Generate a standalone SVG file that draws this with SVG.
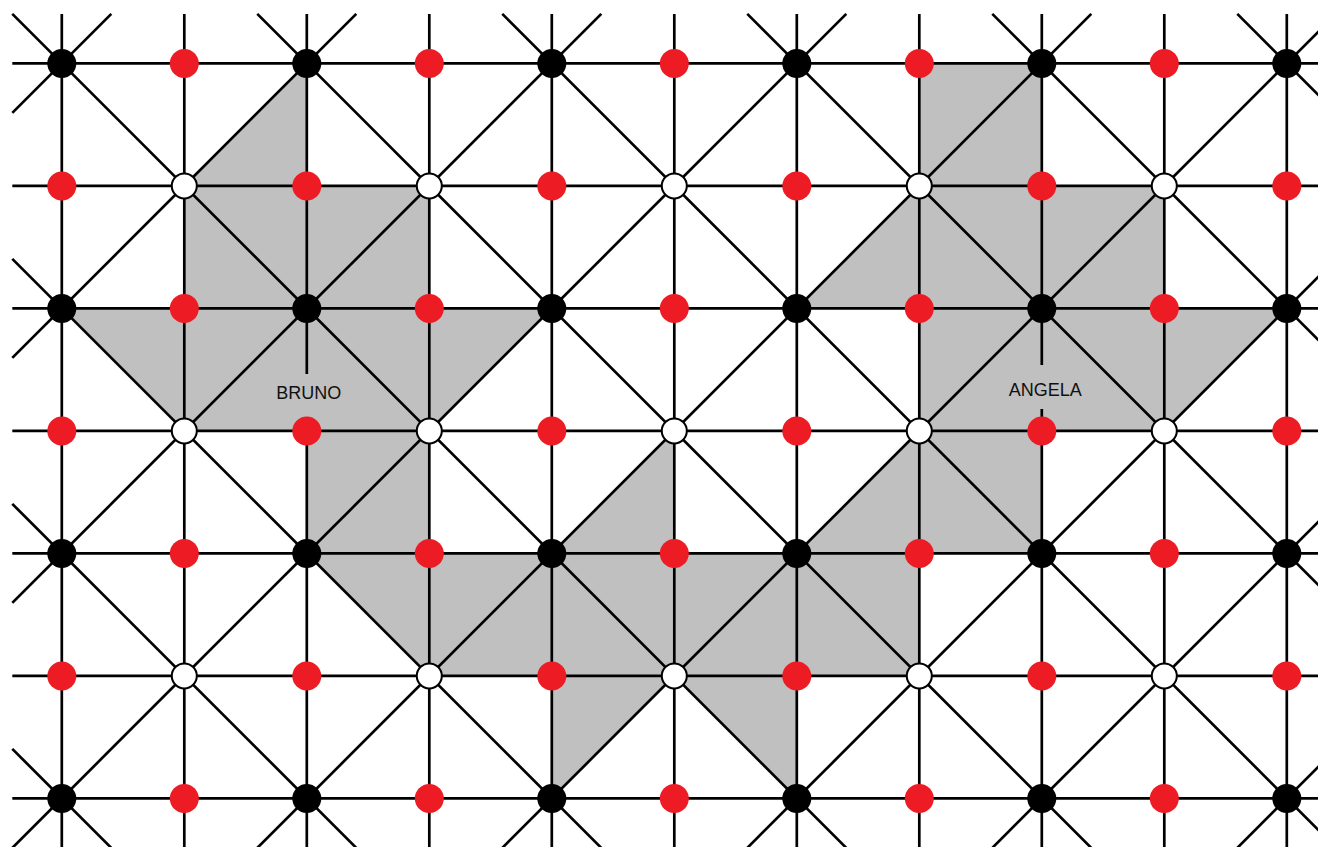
<svg xmlns="http://www.w3.org/2000/svg" width="1318" height="847" viewBox="0 0 1318 847">
<style>
.region{fill:#c0c0c0;stroke:none}
.ln line{stroke:#000;stroke-width:2.7;stroke-linecap:butt}
.b{fill:#000}
.r{fill:#ed1c24}
.w{fill:#fff;stroke:#000;stroke-width:2}
.lbl{font-family:"Liberation Sans",Arial,sans-serif;font-size:18px;fill:#111;text-anchor:middle}
</style>
<rect width="1318" height="847" fill="#fff"/>
<g id="region">
<path class="region" d="M306.8,63.4 L306.8,185.9 L429.3,185.9 L429.3,308.4 L551.8,308.4 L429.3,430.9 L429.3,553.4 L551.8,553.4 L674.3,430.9 L674.3,553.4 L796.8,553.4 L919.3,430.9 L919.3,308.4 L796.8,308.4 L919.3,185.9 L919.3,63.4 L1041.8,63.4 L1041.8,185.9 L1164.3,185.9 L1164.3,308.4 L1286.8,308.4 L1164.3,430.9 L1041.8,430.9 L1041.8,553.4 L919.3,553.4 L919.3,675.9 L796.8,675.9 L796.8,798.4 L674.3,675.9 L551.8,798.4 L551.8,675.9 L429.3,675.9 L306.8,553.4 L306.8,430.9 L184.3,430.9 L61.8,308.4 L184.3,308.4 L184.3,185.9 Z"/>
</g>
<g id="connectors" class="ln">
<line x1="12.3" y1="63.4" x2="1318" y2="63.4"/>
<line x1="12.3" y1="185.9" x2="1318" y2="185.9"/>
<line x1="12.3" y1="308.4" x2="1318" y2="308.4"/>
<line x1="12.3" y1="430.9" x2="1318" y2="430.9"/>
<line x1="12.3" y1="553.4" x2="1318" y2="553.4"/>
<line x1="12.3" y1="675.9" x2="1318" y2="675.9"/>
<line x1="12.3" y1="798.4" x2="1318" y2="798.4"/>
<line x1="61.8" y1="13.9" x2="61.8" y2="847"/>
<line x1="184.3" y1="13.9" x2="184.3" y2="847"/>
<line x1="306.8" y1="13.9" x2="306.8" y2="374"/>
<line x1="306.8" y1="430.9" x2="306.8" y2="847"/>
<line x1="429.3" y1="13.9" x2="429.3" y2="847"/>
<line x1="551.8" y1="13.9" x2="551.8" y2="847"/>
<line x1="674.3" y1="13.9" x2="674.3" y2="847"/>
<line x1="796.8" y1="13.9" x2="796.8" y2="847"/>
<line x1="919.3" y1="13.9" x2="919.3" y2="847"/>
<line x1="1041.8" y1="13.9" x2="1041.8" y2="365"/>
<line x1="1041.8" y1="409" x2="1041.8" y2="847"/>
<line x1="1164.3" y1="13.9" x2="1164.3" y2="847"/>
<line x1="1286.8" y1="13.9" x2="1286.8" y2="847"/>
<line x1="12.3" y1="748.9" x2="111.3" y2="847.9"/>
<line x1="12.3" y1="503.9" x2="356.3" y2="847.9"/>
<line x1="12.3" y1="258.9" x2="601.3" y2="847.9"/>
<line x1="12.3" y1="13.9" x2="846.3" y2="847.9"/>
<line x1="257.3" y1="13.9" x2="1091.3" y2="847.9"/>
<line x1="502.3" y1="13.9" x2="1336.3" y2="847.9"/>
<line x1="747.3" y1="13.9" x2="1336.3" y2="602.9"/>
<line x1="992.3" y1="13.9" x2="1336.3" y2="357.9"/>
<line x1="1237.3" y1="13.9" x2="1336.3" y2="112.9"/>
<line x1="12.3" y1="112.9" x2="111.3" y2="13.9"/>
<line x1="12.3" y1="357.9" x2="356.3" y2="13.9"/>
<line x1="12.3" y1="602.9" x2="601.3" y2="13.9"/>
<line x1="12.3" y1="847.9" x2="846.3" y2="13.9"/>
<line x1="257.3" y1="847.9" x2="1091.3" y2="13.9"/>
<line x1="502.3" y1="847.9" x2="1336.3" y2="13.9"/>
<line x1="747.3" y1="847.9" x2="1336.3" y2="258.9"/>
<line x1="992.3" y1="847.9" x2="1336.3" y2="503.9"/>
<line x1="1237.3" y1="847.9" x2="1336.3" y2="748.9"/>
</g>
<g id="nodes">
<g id="n0-0"><circle class="b" cx="61.8" cy="63.4" r="14.5"/></g>
<g id="n2-0"><circle class="b" cx="306.8" cy="63.4" r="14.5"/></g>
<g id="n4-0"><circle class="b" cx="551.8" cy="63.4" r="14.5"/></g>
<g id="n6-0"><circle class="b" cx="796.8" cy="63.4" r="14.5"/></g>
<g id="n8-0"><circle class="b" cx="1041.8" cy="63.4" r="14.5"/></g>
<g id="n10-0"><circle class="b" cx="1286.8" cy="63.4" r="14.5"/></g>
<g id="n0-2"><circle class="b" cx="61.8" cy="308.4" r="14.5"/></g>
<g id="n2-2"><circle class="b" cx="306.8" cy="308.4" r="14.5"/></g>
<g id="n4-2"><circle class="b" cx="551.8" cy="308.4" r="14.5"/></g>
<g id="n6-2"><circle class="b" cx="796.8" cy="308.4" r="14.5"/></g>
<g id="n8-2"><circle class="b" cx="1041.8" cy="308.4" r="14.5"/></g>
<g id="n10-2"><circle class="b" cx="1286.8" cy="308.4" r="14.5"/></g>
<g id="n0-4"><circle class="b" cx="61.8" cy="553.4" r="14.5"/></g>
<g id="n2-4"><circle class="b" cx="306.8" cy="553.4" r="14.5"/></g>
<g id="n4-4"><circle class="b" cx="551.8" cy="553.4" r="14.5"/></g>
<g id="n6-4"><circle class="b" cx="796.8" cy="553.4" r="14.5"/></g>
<g id="n8-4"><circle class="b" cx="1041.8" cy="553.4" r="14.5"/></g>
<g id="n10-4"><circle class="b" cx="1286.8" cy="553.4" r="14.5"/></g>
<g id="n0-6"><circle class="b" cx="61.8" cy="798.4" r="14.5"/></g>
<g id="n2-6"><circle class="b" cx="306.8" cy="798.4" r="14.5"/></g>
<g id="n4-6"><circle class="b" cx="551.8" cy="798.4" r="14.5"/></g>
<g id="n6-6"><circle class="b" cx="796.8" cy="798.4" r="14.5"/></g>
<g id="n8-6"><circle class="b" cx="1041.8" cy="798.4" r="14.5"/></g>
<g id="n10-6"><circle class="b" cx="1286.8" cy="798.4" r="14.5"/></g>
<g id="n1-1"><circle class="w" cx="184.3" cy="185.9" r="12.5"/></g>
<g id="n3-1"><circle class="w" cx="429.3" cy="185.9" r="12.5"/></g>
<g id="n5-1"><circle class="w" cx="674.3" cy="185.9" r="12.5"/></g>
<g id="n7-1"><circle class="w" cx="919.3" cy="185.9" r="12.5"/></g>
<g id="n9-1"><circle class="w" cx="1164.3" cy="185.9" r="12.5"/></g>
<g id="n1-3"><circle class="w" cx="184.3" cy="430.9" r="12.5"/></g>
<g id="n3-3"><circle class="w" cx="429.3" cy="430.9" r="12.5"/></g>
<g id="n5-3"><circle class="w" cx="674.3" cy="430.9" r="12.5"/></g>
<g id="n7-3"><circle class="w" cx="919.3" cy="430.9" r="12.5"/></g>
<g id="n9-3"><circle class="w" cx="1164.3" cy="430.9" r="12.5"/></g>
<g id="n1-5"><circle class="w" cx="184.3" cy="675.9" r="12.5"/></g>
<g id="n3-5"><circle class="w" cx="429.3" cy="675.9" r="12.5"/></g>
<g id="n5-5"><circle class="w" cx="674.3" cy="675.9" r="12.5"/></g>
<g id="n7-5"><circle class="w" cx="919.3" cy="675.9" r="12.5"/></g>
<g id="n9-5"><circle class="w" cx="1164.3" cy="675.9" r="12.5"/></g>
<g id="n1-0"><circle class="r" cx="184.3" cy="63.4" r="14.5"/></g>
<g id="n3-0"><circle class="r" cx="429.3" cy="63.4" r="14.5"/></g>
<g id="n5-0"><circle class="r" cx="674.3" cy="63.4" r="14.5"/></g>
<g id="n7-0"><circle class="r" cx="919.3" cy="63.4" r="14.5"/></g>
<g id="n9-0"><circle class="r" cx="1164.3" cy="63.4" r="14.5"/></g>
<g id="n1-2"><circle class="r" cx="184.3" cy="308.4" r="14.5"/></g>
<g id="n3-2"><circle class="r" cx="429.3" cy="308.4" r="14.5"/></g>
<g id="n5-2"><circle class="r" cx="674.3" cy="308.4" r="14.5"/></g>
<g id="n7-2"><circle class="r" cx="919.3" cy="308.4" r="14.5"/></g>
<g id="n9-2"><circle class="r" cx="1164.3" cy="308.4" r="14.5"/></g>
<g id="n1-4"><circle class="r" cx="184.3" cy="553.4" r="14.5"/></g>
<g id="n3-4"><circle class="r" cx="429.3" cy="553.4" r="14.5"/></g>
<g id="n5-4"><circle class="r" cx="674.3" cy="553.4" r="14.5"/></g>
<g id="n7-4"><circle class="r" cx="919.3" cy="553.4" r="14.5"/></g>
<g id="n9-4"><circle class="r" cx="1164.3" cy="553.4" r="14.5"/></g>
<g id="n1-6"><circle class="r" cx="184.3" cy="798.4" r="14.5"/></g>
<g id="n3-6"><circle class="r" cx="429.3" cy="798.4" r="14.5"/></g>
<g id="n5-6"><circle class="r" cx="674.3" cy="798.4" r="14.5"/></g>
<g id="n7-6"><circle class="r" cx="919.3" cy="798.4" r="14.5"/></g>
<g id="n9-6"><circle class="r" cx="1164.3" cy="798.4" r="14.5"/></g>
<g id="n0-1"><circle class="r" cx="61.8" cy="185.9" r="14.5"/></g>
<g id="n2-1"><circle class="r" cx="306.8" cy="185.9" r="14.5"/></g>
<g id="n4-1"><circle class="r" cx="551.8" cy="185.9" r="14.5"/></g>
<g id="n6-1"><circle class="r" cx="796.8" cy="185.9" r="14.5"/></g>
<g id="n8-1"><circle class="r" cx="1041.8" cy="185.9" r="14.5"/></g>
<g id="n10-1"><circle class="r" cx="1286.8" cy="185.9" r="14.5"/></g>
<g id="n0-3"><circle class="r" cx="61.8" cy="430.9" r="14.5"/></g>
<g id="n2-3"><circle class="r" cx="306.8" cy="430.9" r="14.5"/></g>
<g id="n4-3"><circle class="r" cx="551.8" cy="430.9" r="14.5"/></g>
<g id="n6-3"><circle class="r" cx="796.8" cy="430.9" r="14.5"/></g>
<g id="n8-3"><circle class="r" cx="1041.8" cy="430.9" r="14.5"/></g>
<g id="n10-3"><circle class="r" cx="1286.8" cy="430.9" r="14.5"/></g>
<g id="n0-5"><circle class="r" cx="61.8" cy="675.9" r="14.5"/></g>
<g id="n2-5"><circle class="r" cx="306.8" cy="675.9" r="14.5"/></g>
<g id="n4-5"><circle class="r" cx="551.8" cy="675.9" r="14.5"/></g>
<g id="n6-5"><circle class="r" cx="796.8" cy="675.9" r="14.5"/></g>
<g id="n8-5"><circle class="r" cx="1041.8" cy="675.9" r="14.5"/></g>
<g id="n10-5"><circle class="r" cx="1286.8" cy="675.9" r="14.5"/></g>
</g>
<g id="labels">
<text class="lbl" x="308.8" y="399.3">BRUNO</text>
<text class="lbl" x="1045.3" y="395.7">ANGELA</text>
</g>
</svg>
